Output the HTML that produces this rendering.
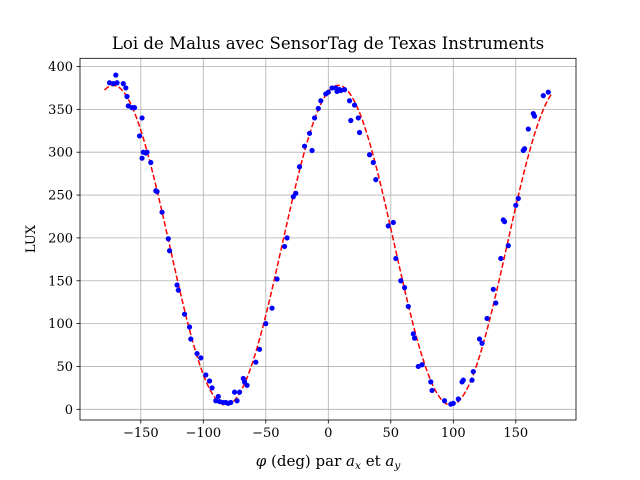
<!DOCTYPE html>
<html><head><meta charset="utf-8"><style>
html,body{margin:0;padding:0;background:#fff;width:640px;height:480px;overflow:hidden}
text{font-family:"DejaVu Serif","Liberation Serif",serif;fill:#000}
</style></head><body>
<svg id="s" width="640" height="480" xmlns="http://www.w3.org/2000/svg"></svg>
<script>
const s=document.getElementById('s');
const X=p=>328.3+p*1.25, Y=l=>409.3-l*0.857;
let h='';
const L=80,R=576,T=58.3,B=420;
for(let v=-150;v<=150;v+=50){h+=`<line x1="${X(v)}" y1="${T}" x2="${X(v)}" y2="${B}" stroke="#b0b0b0" stroke-width="0.8"/>`;}
for(let v=0;v<=400;v+=50){h+=`<line x1="${L}" y1="${Y(v)}" x2="${R}" y2="${Y(v)}" stroke="#b0b0b0" stroke-width="0.8"/>`;}
let d='';
for(let p=-179;p<=179;p+=1){const r=(p-8)*Math.PI/180;const l=5+373*Math.cos(r)**2;d+=(p==-179?'M':'L')+X(p).toFixed(2)+' '+Y(l).toFixed(2);}
h+=`<path d="${d}" fill="none" stroke="#ff0000" stroke-width="1.5" stroke-dasharray="5.55 2.4"/>`;
const pts=[[-175,381],[-172,380],[-170,390],[-169,381],[-164,380],[-162,375],[-161,365],[-160,354],[-157,352],[-155,352],[-151,319],[-149,340],[-149,293],[-148,300],[-146,299],[-145,300],[-142,288],[-138,255],[-137,254],[-133,230],[-128,199],[-127,185],[-121,145],[-120,139],[-115,111],[-111,96],[-110,82],[-105,65],[-102,60],[-98,40],[-95,33],[-93,25],[-90,10],[-88,15],[-87,9],[-84,8],[-82,8],[-80,7],[-78,8],[-75,20],[-73,10],[-71,20],[-68,36],[-67,32],[-65,28],[-58,55],[-55,70],[-50,100],[-45,118],[-41,152],[-35,190],[-33,200],[-28,248],[-26,252],[-23,283],[-19,307],[-15,322],[-13,302],[-11,340],[-8,351],[-6,360],[-2,368],[0,370],[3,375],[6,375],[7,371],[9,373],[10,372],[13,373],[17,360],[18,337],[21,355],[24,340],[25,323],[33,297],[36,288],[38,268],[48,214],[52,218],[54,176],[58,150],[61,142],[64,120],[68,88],[69,83],[72,50],[75,52],[82,32],[83,22],[93,10],[98,6],[100,7],[104,12],[107,32],[108,34],[115,34],[116,44],[121,82],[123,77],[127,106],[132,140],[134,124],[138,176],[140,221],[141,219],[144,191],[150,238],[152,246],[156,302],[157,304],[160,327],[164,345],[165,342],[172,366],[176,370]];
for(const [p,l] of pts)h+=`<circle cx="${X(p)}" cy="${Y(l)}" r="2.6" fill="#0000ff"/>`;
h+=`<rect x="${L}" y="${T}" width="${R-L}" height="${B-T}" fill="none" stroke="#000" stroke-width="0.8"/>`;
for(let v=-150;v<=150;v+=50){const x=X(v);h+=`<line x1="${x}" y1="${B}" x2="${x}" y2="${B+3.5}" stroke="#000" stroke-width="0.8"/><text x="${x}" y="${B+17}" font-size="13" text-anchor="middle">${v<0?'\u2212'+(-v):v}</text>`;}
for(let v=0;v<=400;v+=50){const y=Y(v);h+=`<line x1="${L-3.5}" y1="${y}" x2="${L}" y2="${y}" stroke="#000" stroke-width="0.8"/><text x="${L-7}" y="${y+4.5}" font-size="13" text-anchor="end">${v}</text>`;}
h+=`<text x="328" y="49" font-size="16.6" text-anchor="middle">Loi de Malus avec SensorTag de Texas Instruments</text>`;
h+=`<text transform="translate(35,239) rotate(-90)" font-size="13" text-anchor="middle">LUX</text>`;
h+=`<text x="328" y="466" font-size="15" text-anchor="middle"><tspan font-style="italic">φ</tspan> (deg) par <tspan font-style="italic">a</tspan><tspan font-style="italic" font-size="10.5" dy="3">x</tspan><tspan dy="-3"> et </tspan><tspan font-style="italic">a</tspan><tspan font-style="italic" font-size="10.5" dy="3">y</tspan></text>`;
s.innerHTML=h;
</script>
</body></html>
